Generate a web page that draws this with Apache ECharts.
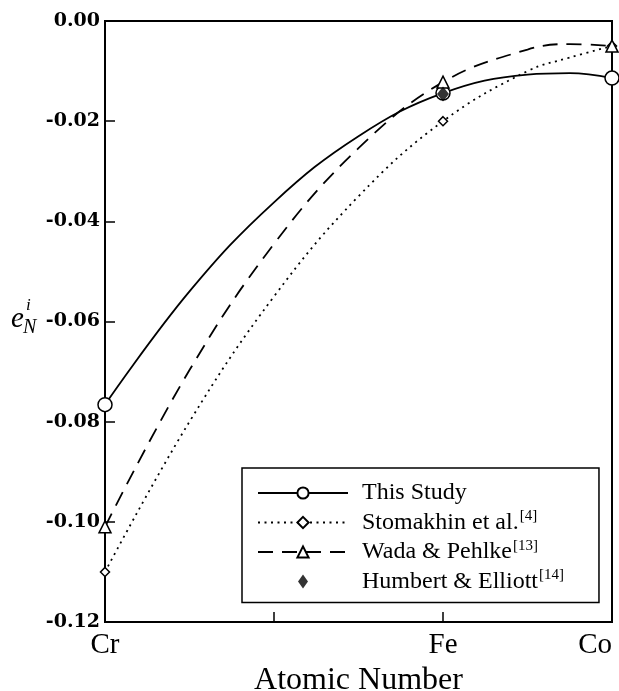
<!DOCTYPE html>
<html>
<head>
<meta charset="utf-8">
<script src="https://cdn.jsdelivr.net/npm/echarts@6/dist/echarts.min.js"></script>
<style>html,body{margin:0;padding:0;background:#fff}#c{width:619px;height:691px}</style>
</head>
<body>
<div id="c"></div>
<script>
// Atomic numbers and element labels on the x axis
const atomicNumbers = [24, 25, 26, 27];
const elementLabels = ['Cr', '', 'Fe', 'Co'];

// Measured points (markers) at Cr, Fe, Co
const markerX = [24, 26, 27];
const thisStudyPts = [-0.0766, -0.0144, -0.0114];
const stomakhinPts = [-0.110, -0.020, -0.005];
const wadaPts = [-0.101, -0.0122, -0.005];
const humbertX = [26];
const humbertPts = [-0.0146];

// Fitted curves
const curveX = [24, 24.5, 25, 25.5, 26, 26.5, 26.75, 27];
const thisStudyCurve = [-0.0766, -0.0540, -0.0362, -0.0230, -0.0144, -0.0107, -0.0104, -0.0114];
const stomakhinCurve = [-0.110, -0.080, -0.055, -0.035, -0.020, -0.010, -0.0073, -0.005];
const wadaCurve = [-0.101, -0.0697, -0.0445, -0.0254, -0.0125, -0.0057, -0.0046, -0.005];

const seriesNames = ['This Study', 'Stomakhin et al.', 'Wada & Pehlke', 'Humbert & Elliott'];
const refs = ['', '[4]', '[13]', '[14]'];

const FONT = 'Liberation Serif';

function buildLine(xs, ys, markYs, symbol, size, dash, width, name) {
  const data = xs.map((x, i) => {
    const mi = markerX.indexOf(x);
    if (mi >= 0) return { value: [x, markYs[mi]] };
    return { value: [x, ys[i]], symbol: 'none' };
  });
  return {
    name: name, type: 'line', smooth: 0.4, data: data,
    symbol: symbol, symbolSize: size, showAllSymbol: true,
    lineStyle: { color: '#000', width: width, type: dash },
    itemStyle: { color: '#fff', borderColor: '#000', borderWidth: 1.5 },
    z: 3
  };
}

const diamondLegendIcon = 'path://M-45,-7L-45,-7M45,7L45,7M0,-7L5,0L0,7L-5,0Z';

const chart = echarts.init(document.getElementById('c'), null, { renderer: 'canvas' });
chart.setOption({
  animation: false,
  backgroundColor: '#fff',
  grid: { left: 105, top: 21, right: 7, bottom: 69, outerBoundsMode: 'none', containLabel: false,
          show: true, borderColor: '#000', borderWidth: 2, backgroundColor: 'transparent' },
  xAxis: {
    type: 'value', min: 24, max: 27, interval: 1,
    name: 'Atomic Number', nameLocation: 'middle', nameGap: 38,
    nameTextStyle: { fontFamily: FONT, fontSize: 32, color: '#000' },
    axisLine: { onZero: false, lineStyle: { color: '#000', width: 2 } },
    axisTick: { inside: true, length: 10, lineStyle: { color: '#000', width: 1.5 } },
    splitLine: { show: false },
    axisLabel: {
      fontFamily: FONT, fontSize: 29, color: '#000', margin: 9,
      alignMaxLabel: 'right',
      formatter: v => { const i = atomicNumbers.indexOf(Math.round(v)); return i >= 0 ? elementLabels[i] : ''; }
    }
  },
  yAxis: {
    type: 'value', min: -0.12, max: 0, interval: 0.02,
    axisLine: { onZero: false, lineStyle: { color: '#000', width: 2 } },
    axisTick: { inside: true, length: 10, lineStyle: { color: '#000', width: 1.5 } },
    splitLine: { show: false },
    axisLabel: {
      fontFamily: 'DejaVu Serif', fontSize: 19, fontWeight: 'bold', color: '#000', margin: 5,
      formatter: v => (Math.abs(v) < 1e-9 ? '0.00' : v.toFixed(2))
    }
  },
  legend: {
    orient: 'vertical', left: 242, top: 468,
    backgroundColor: '#fff', borderColor: '#000', borderWidth: 1.5,
    padding: [13, 35, 9, 15], itemGap: 4, itemWidth: 90, itemHeight: 14,
    data: [seriesNames[0], seriesNames[1], seriesNames[2], { name: seriesNames[3], icon: diamondLegendIcon }],
    formatter: name => { const i = seriesNames.indexOf(name); return refs[i] ? '{n|' + name + '}{s|' + refs[i] + '}' : '{n|' + name + '}'; },
    textStyle: {
      color: '#000', fontFamily: FONT, fontSize: 24,
      rich: {
        n: { fontFamily: FONT, fontSize: 24, color: '#000', padding: [0, 0, 0, 9] },
        s: { fontFamily: FONT, fontSize: 15, color: '#000', padding: [0, 0, 12, 1] }
      }
    }
  },
  graphic: [
    { type: 'text', style: { x: 11, y: 319, text: 'e', font: 'italic 29px "Liberation Serif"', fill: '#000', textAlign: 'left', textVerticalAlign: 'middle' } },
    { type: 'text', style: { x: 26, y: 306, text: 'i', font: 'italic 17px "Liberation Serif"', fill: '#000', textAlign: 'left', textVerticalAlign: 'middle' } },
    { type: 'text', style: { x: 23, y: 328, text: 'N', font: 'italic 20px "Liberation Serif"', fill: '#000', textAlign: 'left', textVerticalAlign: 'middle' } }
  ],
  series: [
    buildLine(curveX, thisStudyCurve, thisStudyPts, 'circle', 14, 'solid', 1.8, seriesNames[0]),
    buildLine(curveX, stomakhinCurve, stomakhinPts, 'diamond', 9, [2, 4.5], 1.8, seriesNames[1]),
    buildLine(curveX, wadaCurve, wadaPts, 'triangle', 12, [15, 9], 1.8, seriesNames[2]),
    {
      name: seriesNames[3], type: 'scatter', symbol: 'diamond', symbolSize: [12, 15],
      data: humbertX.map((x, i) => [x, humbertPts[i]]),
      itemStyle: { color: '#000' }, z: 4
    }
  ]
});
</script>
</body>
</html>
